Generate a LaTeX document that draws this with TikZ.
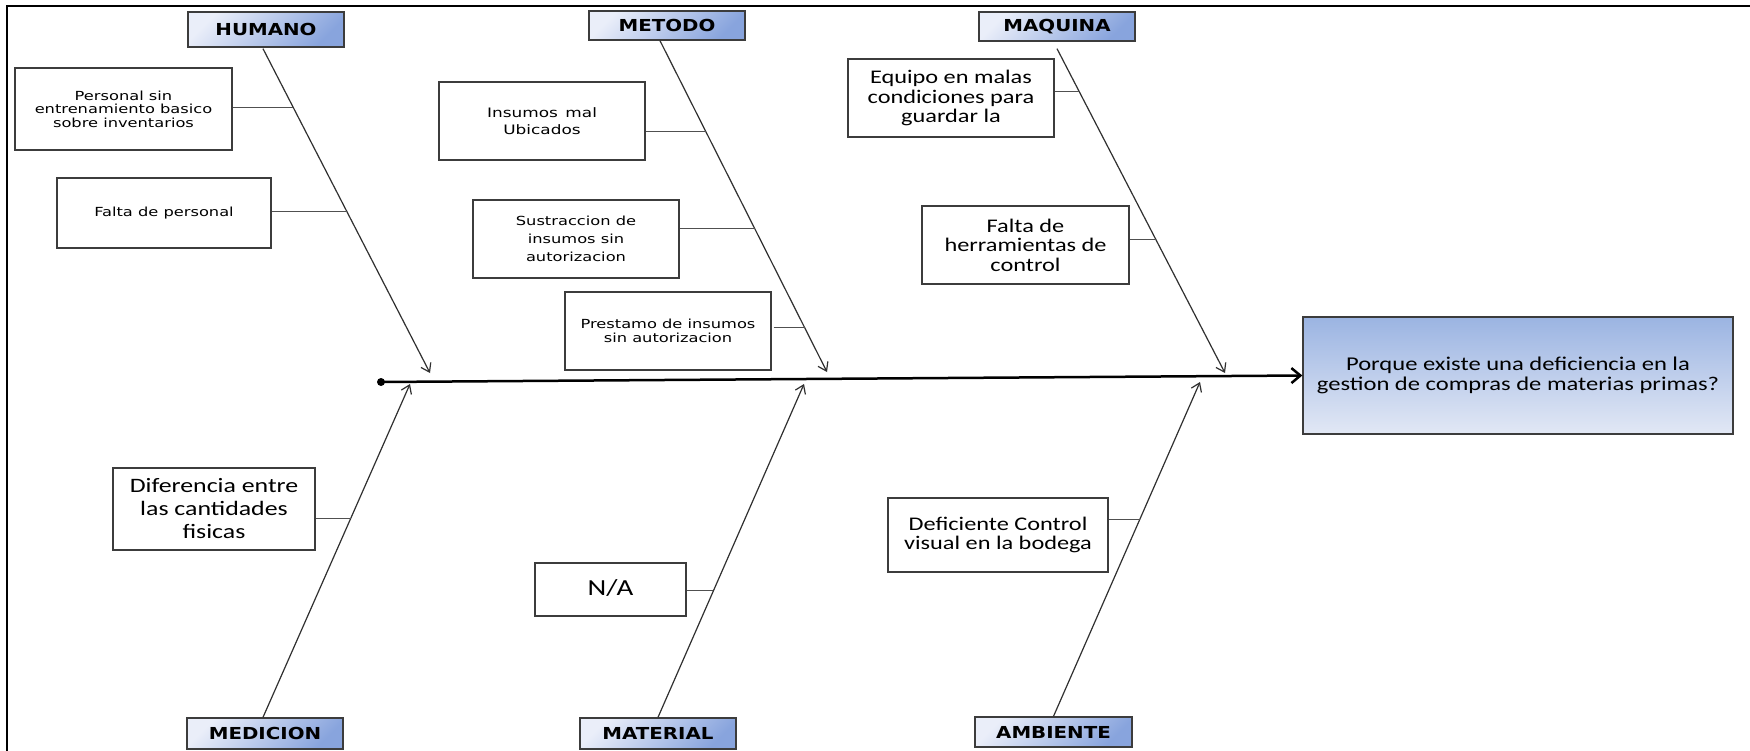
\documentclass[tikz,border=0pt]{standalone}
\usepackage{fontspec}
\usetikzlibrary{arrows.meta,calc}
\newfontfamily\verdf[FakeStretch=1.3]{DejaVu Sans}
\newfontfamily\calf[FakeStretch=1.26]{Carlito}
\newfontfamily\hdrf[FakeStretch=1.2]{DejaVu Sans}
\definecolor{boxline}{HTML}{3C3C3C}
\definecolor{lineC}{HTML}{303030}
\definecolor{twigC}{HTML}{505050}
\definecolor{hdrL}{HTML}{EAEEF9}
\definecolor{hdrR}{HTML}{88A4DD}
\definecolor{effT}{HTML}{9BB4E2}
\definecolor{effB}{HTML}{E2E8F5}
\begin{document}
\begin{tikzpicture}[x=1pt,y=-1pt,
  hdr/.style={draw=boxline, line width=1.4pt, top color=hdrL, bottom color=hdrR, shading angle=45,
    font=\hdrf\bfseries\fontsize{16.5pt}{18pt}\selectfont, inner sep=0pt, minimum width=156pt},
  vbox/.style={draw=boxline, line width=1.3pt, fill=white, align=center, inner sep=0pt,
    font=\verdf\fontsize{12.5pt}{13.5pt}\selectfont},
  cbox/.style={draw=boxline, line width=1.3pt, fill=white, align=center, inner sep=0pt,
    font=\calf\fontsize{19.3pt}{19.5pt}\selectfont},
  branch/.style={draw=lineC, line width=1.2pt, -{Straight Barb[length=8pt,width=11pt]}},
  twig/.style={draw=twigC, line width=1pt},
  spine/.style={draw=black, line width=2.5pt, -{Straight Barb[length=9pt,width=15pt]}}]
\useasboundingbox (0,0) rectangle (1750,751);
\fill[white] (0,0) rectangle (1750,751);
% frame (only top and left edges visible)
\draw[line width=2pt] (7,751) -- (7,6) -- (1750,6);

% effect
\node[draw=boxline, line width=1.3pt, top color=effT, bottom color=effB, align=center, inner sep=0pt,
  minimum width=430pt, minimum height=117pt, font=\calf\fontsize{19.5pt}{20pt}\selectfont]
  (eff) at (1518,375.5) {Porque existe una deficiencia en la\\gestion de compras de materias primas?};

% category headers
\node[hdr, minimum height=35pt] (hum) at (266,29.5) {HUMANO};
\node[hdr, minimum height=29pt] (met) at (667,25.5) {METODO};
\node[hdr, minimum height=29pt] (maq) at (1057,26.5) {MAQUINA};
\node[hdr, minimum height=31pt] (med) at (265,733.5) {MEDICION};
\node[hdr, minimum height=31pt] (mat) at (658,733.5) {MATERIAL};
\node[hdr, minimum height=30pt, minimum width=157pt] (amb) at (1053.5,732) {AMBIENTE};

% causes
\node[vbox, minimum width=217pt, minimum height=82pt] (pers) at (123.5,109)
  {Personal sin\\entrenamiento basico\\sobre inventarios};
\node[vbox, minimum width=214pt, minimum height=70pt] (falp) at (164,213) {Falta de personal};
\node[vbox, minimum width=206pt, minimum height=78pt, font=\verdf\fontsize{13pt}{17pt}\selectfont]
  (ins) at (542,121) {Insumos\, mal\\Ubicados};
\node[vbox, minimum width=206pt, minimum height=78pt, font=\verdf\fontsize{12.5pt}{17.7pt}\selectfont]
  (sus) at (576,239) {Sustraccion de\\insumos sin\\autorizacion};
\node[vbox, minimum width=206pt, minimum height=78pt, font=\verdf\fontsize{12.5pt}{14pt}\selectfont]
  (pre) at (668,331) {Prestamo de insumos\\sin autorizacion};
\node[cbox, minimum width=206pt, minimum height=78pt] (equ) at (951,98)
  {Equipo en malas\\condiciones para\\guardar la};
\node[cbox, minimum width=207pt, minimum height=78pt] (her) at (1025.5,245)
  {Falta de\\herramientas de\\control};
\node[cbox, minimum width=202pt, minimum height=82pt, font=\calf\fontsize{20.5pt}{23pt}\selectfont]
  (dif) at (214,509) {Diferencia entre\\las cantidades\\fisicas};
\node[cbox, minimum width=151pt, minimum height=53pt, font=\calf\fontsize{23pt}{24pt}\selectfont]
  (na) at (610.5,589.5) {\raisebox{4pt}{N/A}};
\node[cbox, minimum width=220pt, minimum height=74pt] (def) at (998,535)
  {Deficiente Control\\visual en la bodega};

% spine
\coordinate (sp) at (381,382);
\draw[spine] (sp) -- (eff.west);
\fill (sp) circle (4);

% branch tips on the spine and branch starts under the headers
\coordinate (hT) at (430,373);
\coordinate (mT) at (827,372);
\coordinate (qT) at (1225,373);
\coordinate (dT) at (410,384);
\coordinate (aT) at (804,384);
\coordinate (bT) at (1200,382);
\coordinate (humS) at ($(hum.south)+(-3,1)$);
\coordinate (metS) at ($(met.south)+(-7,0)$);
\coordinate (maqS) at ($(maq.south)+(0,7)$);
\coordinate (medS) at ($(med.north)+(-2,0)$);

\draw[branch] (humS) -- (hT);
\draw[branch] (metS) -- (mT);
\draw[branch] (maqS) -- (qT);
\draw[branch] (medS) -- (dT);
\draw[branch] (mat.north) -- (aT);
\draw[branch] (amb.north) -- (bT);

% join points on branches
\coordinate (j1) at ($(humS)!0.182!(hT)$);
\coordinate (j2) at ($(humS)!0.503!(hT)$);
\coordinate (j3) at ($(metS)!0.274!(mT)$);
\coordinate (j4) at ($(metS)!0.568!(mT)$);
\coordinate (j5) at ($(metS)!0.867!(mT)$);
\coordinate (j6) at ($(maqS)!0.132!(qT)$);
\coordinate (j7) at ($(maqS)!0.588!(qT)$);
\coordinate (j8) at ($(medS)!0.596!(dT)$);
\coordinate (j9) at ($(mat.north)!0.380!(aT)$);
\coordinate (j10) at ($(amb.north)!0.588!(bT)$);

\draw[twig] (pers.east |- j1) -- (j1);
\draw[twig] (falp.east |- j2) -- (j2);
\draw[twig] (ins.east |- j3) -- (j3);
\draw[twig] (sus.east |- j4) -- (j4);
\draw[twig] ([xshift=2pt]pre.east |- j5) -- (j5);
\draw[twig] (equ.east |- j6) -- (j6);
\draw[twig] (her.east |- j7) -- (j7);
\draw[twig] (dif.east |- j8) -- (j8);
\draw[twig] (na.east |- j9) -- (j9);
\draw[twig] (def.east |- j10) -- (j10);
\end{tikzpicture}
\end{document}
